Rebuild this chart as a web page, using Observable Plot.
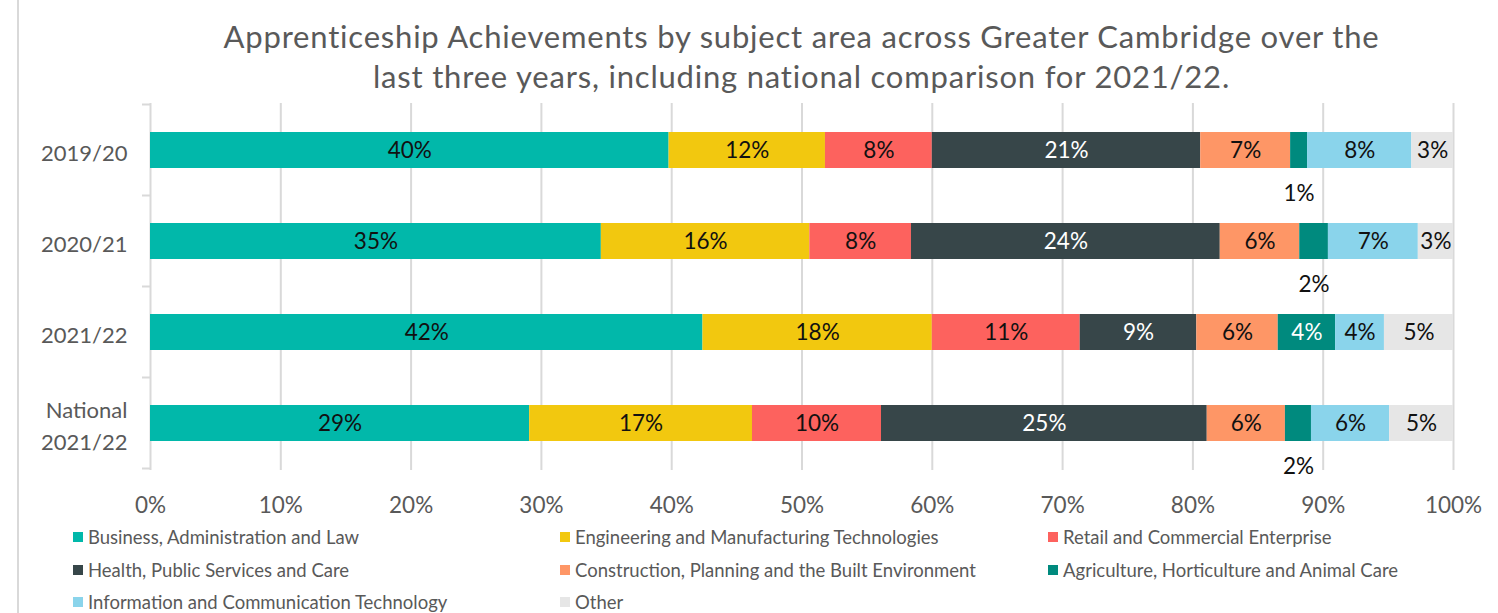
<!DOCTYPE html>
<html><head><meta charset="utf-8">
<script src="https://cdn.jsdelivr.net/npm/d3@7"></script>
<script src="https://cdn.jsdelivr.net/npm/@observablehq/plot@0.6"></script>
<style>
body{margin:0;background:#fff;font-family:Lato,"Open Sans",sans-serif;}
#wrap{position:relative;width:1498px;height:613px;overflow:hidden;background:#fff;}
#frame{position:absolute;left:17px;top:0;width:2px;height:613px;background:#d9d9d9;}
#title{position:absolute;left:100px;width:1403px;top:16px;text-align:center;font-size:31px;letter-spacing:0.8px;line-height:40px;color:#595959;}
#chart{position:absolute;left:0;top:100px;}
#legend{position:absolute;left:73px;top:521px;display:grid;grid-template-columns:487px 488px auto;grid-auto-rows:32.5px;font-size:18.5px;color:#595959;}
.li{display:flex;align-items:center;white-space:nowrap;}
.sw{width:10px;height:10px;margin-right:5px;display:inline-block;}
</style></head>
<body><div id="wrap"><div id="frame"></div>
<div id="title">Apprenticeship Achievements by subject area across Greater Cambridge over the<br>last three years, including national comparison for 2021/22.</div>
<div id="chart"></div><div id="legend"></div></div>
<script>
const rows = ["2019/20", "2020/21", "2021/22", "National\n2021/22"];
const categories = [
  "Business, Administration and Law",
  "Engineering and Manufacturing Technologies",
  "Retail and Commercial Enterprise",
  "Health, Public Services and Care",
  "Construction, Planning and the Built Environment",
  "Agriculture, Horticulture and Animal Care",
  "Information and Communication Technology",
  "Other"
];
const colors = ["#01B8AA", "#F2C80F", "#FD625E", "#374649", "#FE9666", "#008A7E", "#8AD4EB", "#E6E6E6"];
const values2019_20 = [39.8, 12.0, 8.2, 20.6, 6.9, 1.3, 8.0, 3.2];
const values2020_21 = [34.6, 16.0, 7.8, 23.7, 6.1, 2.2, 6.9, 2.7];
const values2021_22 = [42.4, 17.6, 11.35, 8.95, 6.25, 4.4, 3.75, 5.3];
const valuesNational = [29.1, 17.1, 9.9, 25.0, 6.0, 2.0, 6.0, 4.9];
const series = [values2019_20, values2020_21, values2021_22, valuesNational];
// Agriculture label drawn below the bar for these rows
const agricultureLabelBelow = [true, true, false, true];
const whiteLabelCategories = ["Health, Public Services and Care"];
const xTicks = [0, 10, 20, 30, 40, 50, 60, 70, 80, 90, 100];

const agri = categories[5];
const data = rows.flatMap((r, i) => categories.map((c, j) => ({row: r, cat: c, value: series[i][j], below: c === agri && agricultureLabelBelow[i]})));
const lab = d => Math.round(d.value) + "%";
const isWhite = d => whiteLabelCategories.includes(d.cat) || (d.cat === agri && !d.below);

const font = "Lato, 'Open Sans', sans-serif";
const LS = 22.5;
const plot = Plot.plot({
  width: 1498, height: 420,
  marginTop: 3, marginBottom: 50, marginLeft: 150, marginRight: 45,
  style: {fontFamily: font, background: "transparent"},
  x: {domain: [0, 100], label: null},
  y: {domain: rows, paddingInner: 0.6, paddingOuter: 0.3, label: null},
  color: {domain: categories, range: colors},
  marks: [
    Plot.gridX(xTicks, {stroke: "#d9d9d9", strokeOpacity: 1, strokeWidth: 2}),
    Plot.barX(data, Plot.stackX({x: "value", y: "row", fill: "cat", z: "cat"})),
    Plot.text(data, Plot.stackX({x: "value", y: "row", z: "cat", text: d => (d.below || isWhite(d)) ? null : lab(d), fill: "#111", fontSize: LS})),
    Plot.text(data, Plot.stackX({x: "value", y: "row", z: "cat", text: d => (!d.below && isWhite(d)) ? lab(d) : null, fill: "#fff", fontSize: LS})),
    Plot.text(data, Plot.stackX({x: "value", y: "row", z: "cat", text: d => d.below ? lab(d) : null, fill: "#111", fontSize: LS, dy: 43})),
    Plot.axisX({ticks: xTicks, tickFormat: d => d + "%", tickSize: 0, tickPadding: 27, fontSize: 22.5, color: "#595959", label: null}),
    Plot.axisY({tickSize: 0, tickPadding: 23, fontSize: 22, color: "#595959", lineHeight: 1.45, label: null})
  ]
});
document.getElementById("chart").appendChild(plot);

// category separator tick marks on the vertical axis
const ys = plot.scale("y");
const off = (ys.step - ys.bandwidth) / 2;
const xs = plot.scale("x");
const x0 = xs.apply(0);
const edges = rows.map(r => ys.apply(r) - off).concat([ys.apply(rows[rows.length - 1]) + ys.bandwidth + off]);
const svg = d3.select(plot);
svg.append("g").selectAll("line").data(edges).join("line")
  .attr("x1", x0 - 8).attr("x2", x0).attr("y1", d => d).attr("y2", d => d)
  .attr("stroke", "#d9d9d9").attr("stroke-width", 2);

const lg = d3.select("#legend");
categories.forEach((c, i) => {
  const it = lg.append("div").attr("class", "li");
  it.append("span").attr("class", "sw").style("background", colors[i]);
  it.append("span").text(c);
});
</script></body></html>
